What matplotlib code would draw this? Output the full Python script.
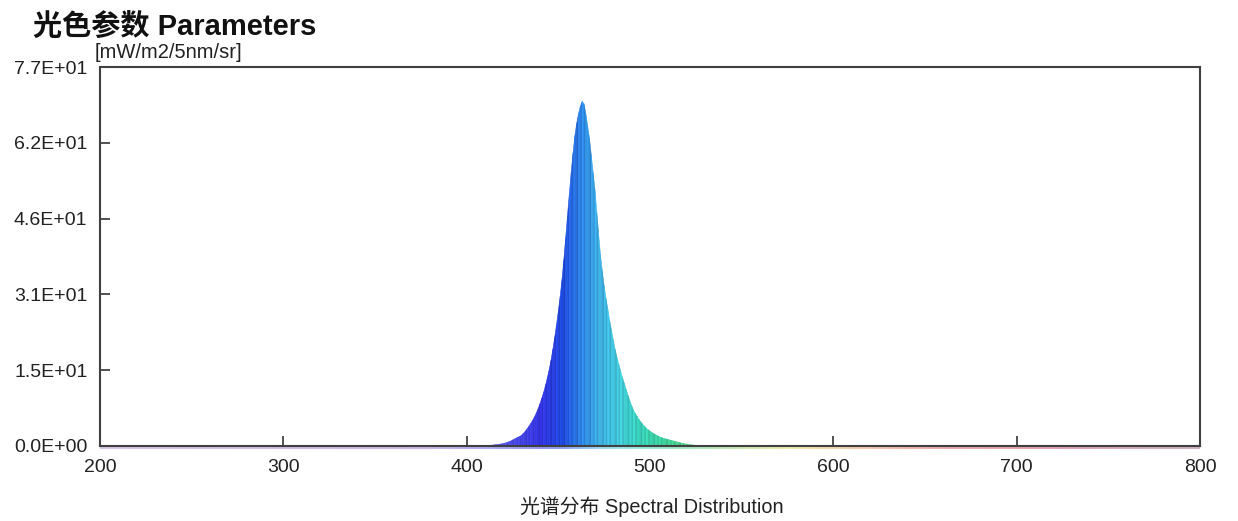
import numpy as np
import matplotlib
matplotlib.use("Agg")
import matplotlib.pyplot as plt
from matplotlib.colors import LinearSegmentedColormap
from matplotlib.collections import LineCollection, PolyCollection

plt.rcParams['font.family'] = ['Liberation Sans', 'Noto Sans CJK SC', 'DejaVu Sans']

# ---- data ----
title = "光色参数 Parameters"
unit_label = "[mW/m2/5nm/sr]"
x_label = "光谱分布 Spectral Distribution"
x_ticks = [200, 300, 400, 500, 600, 700, 800]
y_ticks = [0.0, 15.4, 30.8, 46.2, 61.6, 77.0]
y_tick_labels = ["0.0E+00", "1.5E+01", "3.1E+01", "4.6E+01", "6.2E+01", "7.7E+01"]

peak_start_nm = 405
peak_values = [
    0.03, 0.04, 0.05, 0.06, 0.07,                                  # 405-409
    0.08, 0.1, 0.12, 0.15, 0.18, 0.22, 0.26, 0.3, 0.36, 0.43,      # 410-419
    0.5, 0.6, 0.7, 0.85, 1.0, 1.2, 1.4, 1.6, 1.8, 1.95,            # 420-429
    2.2, 2.6, 3.0, 3.5, 4.0, 4.6, 5.2, 5.9, 6.7, 7.6,              # 430-439
    8.6, 9.7, 10.9, 12.3, 13.8, 15.5, 17.4, 19.6, 22.0, 24.6,      # 440-449
    27.4, 30.4, 33.8, 37.8, 42.3, 46.8, 51.3, 55.5, 59.5, 63.0,    # 450-459
    65.5, 67.5, 69.0, 70.0, 69.5, 67.5, 65.0, 62.5, 59.0, 55.5,    # 460-469
    52.0, 47.5, 43.0, 38.8, 35.5, 32.5, 30.0, 27.8, 25.5, 23.5,    # 470-479
    21.5, 19.6, 18.0, 16.6, 15.2, 13.9, 12.7, 11.5, 10.3, 9.2,     # 480-489
    8.2, 7.3, 6.6, 6.0, 5.4, 4.9, 4.4, 4.0, 3.6, 3.3,              # 490-499
    3.0, 2.75, 2.5, 2.3, 2.1, 1.9, 1.75, 1.6, 1.5, 1.4,            # 500-509
    1.3, 1.2, 1.1, 1.0, 0.9, 0.8, 0.7, 0.6, 0.52, 0.45,            # 510-519
    0.38, 0.32, 0.27, 0.22, 0.18, 0.15, 0.12, 0.1, 0.08, 0.06,     # 520-529
    0.05, 0.04, 0.03,                                               # 530-532
]

wavelengths = np.arange(200, 801, 1)
values = np.zeros_like(wavelengths, dtype=float)
i0 = peak_start_nm - 200
values[i0:i0 + len(peak_values)] = peak_values

# wavelength -> colour
anchors = [
    (200, "#b090c8"), (380, "#9070d0"), (420, "#5050e8"), (440, "#3030e2"),
    (452, "#1c48e0"), (462, "#2a84e6"), (472, "#3aaee4"), (482, "#40c8dc"),
    (495, "#34d2b8"), (510, "#3cd094"), (540, "#80d070"), (575, "#e0d860"),
    (610, "#e8a060"), (650, "#d86060"), (720, "#c04868"), (800, "#a06888"),
]
cmap = LinearSegmentedColormap.from_list(
    "spec", [((w - 200) / 600, c) for w, c in anchors])

def stripe(rgb, k):
    f = [1.0, 0.9, 1.05, 0.94, 1.08, 0.92, 1.02][k % 7]
    return tuple(np.clip(np.array(rgb) * f, 0, 1))

seg_colors = [stripe(cmap((w - 200) / 600)[:3], i)
              for i, w in enumerate(wavelengths[:-1])]

# ---- figure ----
fig = plt.figure(figsize=(12.38, 5.21), dpi=100)
ax = fig.add_axes([100 / 1238, 75 / 521, 1100 / 1238, 379 / 521])

polys = []
for i in range(len(wavelengths) - 1):
    x0, x1 = wavelengths[i], wavelengths[i + 1]
    y0, y1 = values[i], values[i + 1]
    polys.append([(x0, 0), (x0, y0), (x1, y1), (x1, 0)])
pc = PolyCollection(polys, facecolors=seg_colors, edgecolors=seg_colors,
                    linewidths=0.4, zorder=2)
ax.add_collection(pc)

# faint coloured baseline
pts = np.column_stack([wavelengths, np.full(len(wavelengths), -0.5)])
segs = np.stack([pts[:-1], pts[1:]], axis=1)
lc = LineCollection(segs, colors=[cmap((w - 200) / 600) for w in wavelengths[:-1]],
                    linewidths=1.5, alpha=0.5, clip_on=False, zorder=1)
ax.add_collection(lc)

ax.set_xlim(200, 800)
ax.set_ylim(0, 77)
ax.set_xticks(x_ticks)
ax.set_xticklabels([str(t) for t in x_ticks])
ax.set_yticks(y_ticks)
ax.set_yticklabels(y_tick_labels)
ax.tick_params(direction="in", length=7, width=1.2, colors="#333333",
               labelcolor="#222222", labelsize=14)
ax.tick_params(axis="y", pad=9)
ax.tick_params(axis="x", pad=9)
for s in ax.spines.values():
    s.set_color("#404040")
    s.set_linewidth(1.5)
    s.set_zorder(3)

fig.text(33 / 1238, 1 - 27 / 521, title, fontsize=21, fontweight="bold",
         ha="left", va="center", color="#111111")
fig.text(95 / 1238, 1 - 53 / 521, unit_label, fontsize=14.5, ha="left",
         va="center", color="#222222")
fig.text(652 / 1238, 1 - 507 / 521, x_label, fontsize=14.3, ha="center",
         va="center", color="#222222")

fig.savefig("out.png", dpi=100, facecolor="white")
